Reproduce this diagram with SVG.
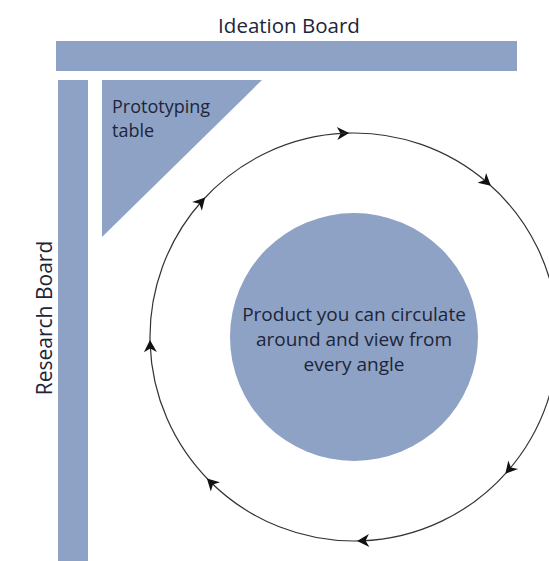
<svg xmlns="http://www.w3.org/2000/svg" width="549" height="561" viewBox="0 0 549 561">
<style>
.fill{fill:#8ea2c6;}
.lbl{font-family:"Open Sans","Noto Sans",sans-serif;fill:#1d2538;}
.arc{fill:none;stroke:#333333;stroke-width:1.2;marker-start:url(#ah);}
</style>
<defs>
<marker id="ah" markerUnits="userSpaceOnUse" markerWidth="20" markerHeight="20" viewBox="-10 -10 20 20" refX="0" refY="0" orient="auto">
<path d="M4,0 L-8,-6.5 L-4.5,0 L-8,6.5 Z" fill="#111"/>
</marker>
</defs>
<rect width="549" height="561" fill="#ffffff"/>
<g id="ideation-board">
<rect class="fill" x="56" y="41" width="461" height="30"/>
<text class="lbl" x="289" y="33" font-size="20.5" text-anchor="middle">Ideation Board</text>
</g>
<g id="research-board">
<rect class="fill" x="58" y="80" width="30" height="481"/>
<text class="lbl" transform="translate(52,318) rotate(-90)" font-size="21" text-anchor="middle">Research Board</text>
</g>
<g id="prototyping-table">
<polygon class="fill" points="102,80 262,80 102,237"/>
<text class="lbl" font-size="18"><tspan x="112" y="113">Prototyping</tspan><tspan x="112" y="137">table</tspan></text>
</g>
<g id="product">
<circle class="fill" cx="354" cy="337" r="124"/>
<text class="lbl" font-size="19" text-anchor="middle"><tspan x="354" y="321">Product you can circulate</tspan><tspan x="354" y="346">around and view from</tspan><tspan x="354" y="371">every angle</tspan></text>
</g>
<g id="connectors">
<path class="arc" d="M345.10,133.19 A204,204 0 0 1 487.84,183.04"/>
<path class="arc" d="M487.84,183.04 A204,204 0 0 1 557.72,326.32"/>
<path class="arc" d="M557.72,326.32 A204,204 0 0 1 507.96,470.84"/>
<path class="arc" d="M507.96,470.84 A204,204 0 0 1 361.12,540.88"/>
<path class="arc" d="M361.12,540.88 A204,204 0 0 1 209.75,481.25"/>
<path class="arc" d="M209.75,481.25 A204,204 0 0 1 150.12,344.12"/>
<path class="arc" d="M150.12,344.12 A204,204 0 0 1 202.40,200.50"/>
<path class="arc" d="M202.40,200.50 A204,204 0 0 1 345.10,133.19"/>
</g>
</svg>
